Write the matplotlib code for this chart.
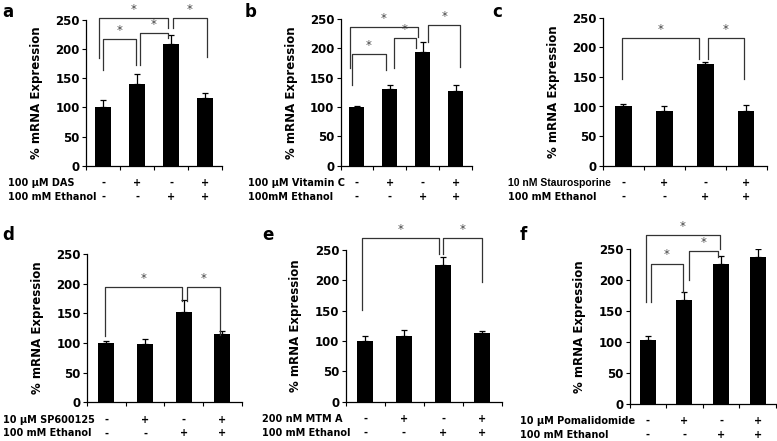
#
# mRNA expression panels a-f
#
import matplotlib
matplotlib.use("Agg")
import matplotlib.pyplot as plt
from matplotlib.transforms import blended_transform_factory

plt.rcParams['font.family'] = ['DejaVu Sans']

# ---- data ----
drug_labels = ["100 \u00b5M DAS", "100 \u00b5M Vitamin C", "10 nM Staurosporine",
               "10 \u00b5M SP600125", "200 nM MTM A", "10 \u00b5M Pomalidomide"]
ethanol_labels = ["100 mM Ethanol", "100mM Ethanol", "100 mM Ethanol",
                  "100 mM Ethanol", "100 mM Ethanol", "100 mM Ethanol"]
panel_letters = ["a", "b", "c", "d", "e", "f"]
drug_signs = ["-", "+", "-", "+"]
ethanol_signs = ["-", "-", "+", "+"]

mean_a = [101, 141, 208, 117]
err_a = [12, 16, 17, 7]
mean_b = [100, 131, 193, 128]
err_b = [1.5, 6, 17, 9]
mean_c = [101, 92, 172, 92]
err_c = [4, 8, 4, 10]
mean_d = [100, 99, 153, 115]
err_d = [3, 8, 19, 6]
mean_e = [100, 109, 225, 113]
err_e = [9, 9, 13, 3]
mean_f = [102, 167, 225, 237]
err_f = [8, 13, 13, 13]

# significance brackets: (x left, x right, bar height, left leg end, right leg end)
sig_a = [(-0.13, 1.9, 254, 185, 237), (0.0, 0.98, 217, 164, 172),
         (1.09, 1.9, 227, 173, 219), (2.06, 3.06, 254, 237, 187)]
sig_b = [(-0.21, 1.86, 236, 166, 220), (-0.16, 0.88, 191, 137, 163),
         (1.13, 1.79, 217, 166, 200), (2.17, 3.15, 239, 211, 169)]
sig_c = [(-0.04, 1.86, 215, 147, 181), (2.07, 2.94, 215, 181, 147)]
sig_d = [(-0.03, 1.95, 195, 111, 171), (2.09, 2.94, 195, 171, 114)]
sig_e = [(-0.08, 1.9, 269, 151, 243), (2.01, 2.99, 269, 243, 198)]
sig_f = [(-0.05, 1.97, 272, 164, 250), (0.08, 0.97, 226, 164, 180),
         (1.13, 1.91, 246, 199, 236)]

means = [mean_a, mean_b, mean_c, mean_d, mean_e, mean_f]
errs = [err_a, err_b, err_c, err_d, err_e, err_f]
sigs = [sig_a, sig_b, sig_c, sig_d, sig_e, sig_f]

# ---- layout (pixels): axis left, axis right, top (250), bottom (0) ----
W, H = 777, 441
boxes = [(86, 222, 20, 165.7), (340.5, 472, 19, 165.7), (603, 766.5, 17.7, 165.7),
         (87, 241.7, 254, 402.3), (345.5, 501.5, 250, 401.7), (629.5, 776, 248.7, 403.7)]
bar_w = [0.46, 0.46, 0.41, 0.42, 0.42, 0.44]
letter_pos = [(2, 17), (245, 17), (492, 17), (2, 240), (262, 240), (520, 240)]
label_x = [8, 248, 508, 3, 262, 520]

fig = plt.figure(figsize=(W / 100, H / 100), dpi=100)

for k in range(6):
    x0, x1, yt, yb = boxes[k]
    ax = fig.add_axes([x0 / W, 1 - yb / H, (x1 - x0) / W, (yb - yt) / H])
    xs = list(range(4))
    ax.bar(xs, means[k], width=bar_w[k], color="black", zorder=2)
    ax.errorbar(xs, means[k], yerr=[[0] * 4, errs[k]], fmt="none", ecolor="black",
                elinewidth=0.9, capsize=2.5, capthick=0.9, zorder=3)
    ax.set_xlim(-0.5, 3.5)
    ax.set_ylim(0, 250)
    ax.set_yticks([0, 50, 100, 150, 200, 250])
    ax.set_xticks([-0.5, 0.5, 1.5, 2.5, 3.5])
    ax.set_xticklabels([])
    ax.tick_params(axis="both", direction="out", length=3, width=0.8, colors="black")
    ax.tick_params(axis="y", labelsize=8.5, pad=1.5)
    for t in ax.get_yticklabels():
        t.set_fontweight("bold")
    for s in ["top", "right"]:
        ax.spines[s].set_visible(False)
    for s in ["left", "bottom"]:
        ax.spines[s].set_linewidth(0.9)
    ax.set_ylabel("% mRNA Expression", fontsize=8.5, fontweight="bold")
    ax.yaxis.set_label_coords(-43 / (x1 - x0), 0.5)
    ax.patch.set_visible(False)

    # significance brackets
    for xl, xr, yl, yle, yre in sigs[k]:
        ax.plot([xl, xl, xr, xr], [yle, yl, yl, yre], color="#333333", lw=0.9,
                clip_on=False, zorder=4)
        ax.annotate("*", ((xl + xr) / 2, yl), xytext=(0, 1.5), textcoords="offset points",
                    ha="center", va="bottom", fontsize=8.5, color="#444444",
                    annotation_clip=False)

    # treatment rows
    tr = blended_transform_factory(ax.transData, fig.transFigure)
    r1 = 1 - (yb + 17.5) / H
    r2 = 1 - (yb + 31) / H
    if k == 2:
        # long name: narrower face so it stays clear of the first sign
        fig.text(label_x[k] / W, r1, drug_labels[k], fontsize=7.5, fontweight="bold",
                 family=["Liberation Sans", "DejaVu Sans"], va="center", ha="left")
    else:
        fig.text(label_x[k] / W, r1, drug_labels[k], fontsize=7, fontweight="bold",
                 va="center", ha="left")
    fig.text(label_x[k] / W, r2, ethanol_labels[k], fontsize=7, fontweight="bold",
             va="center", ha="left")
    for i in range(4):
        ax.text(i, r1, drug_signs[i], transform=tr, fontsize=7, fontweight="bold",
                ha="center", va="center")
        ax.text(i, r2, ethanol_signs[i], transform=tr, fontsize=7, fontweight="bold",
                ha="center", va="center")

    fig.text(letter_pos[k][0] / W, 1 - letter_pos[k][1] / H, panel_letters[k],
             fontsize=12, fontweight="bold", ha="left", va="baseline")

fig.savefig("out.png", dpi=100)
